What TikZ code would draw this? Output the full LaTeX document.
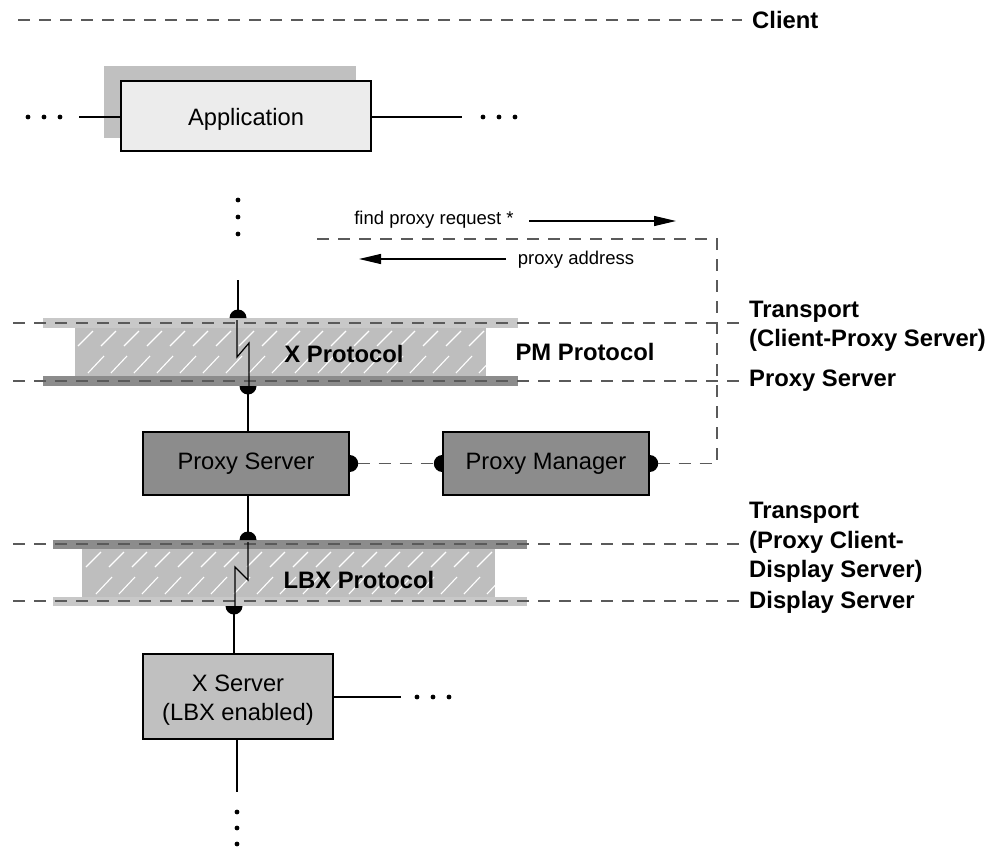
\documentclass[tikz,border=0pt]{standalone}
\usepackage{fontspec}
\setmainfont{Liberation Sans}
\usetikzlibrary{arrows.meta}
\definecolor{lightg}{HTML}{C8C8C8}
\definecolor{midg}{HTML}{BEBEBE}
\definecolor{darkg}{HTML}{8C8C8C}
\definecolor{appg}{HTML}{ECECEC}
\definecolor{shadowg}{HTML}{C0C0C0}
\definecolor{dashg}{HTML}{5A5A5A}
\newcommand\mydomeup[1]{\fill (#1) ++(-8.5pt,0) arc[start angle=180,end angle=0,radius=8.5pt] -- cycle;}
\newcommand\mydomedown[1]{\fill (#1) ++(-8.5pt,0) arc[start angle=180,end angle=360,radius=8.5pt] -- cycle;}
\newcommand\mydomeright[1]{\fill (#1) ++(0,-8.5pt) arc[start angle=-90,end angle=90,radius=8.5pt] -- cycle;}
\newcommand\mydomeleft[1]{\fill (#1) ++(0,8.5pt) arc[start angle=90,end angle=270,radius=8.5pt] -- cycle;}
\newcommand\mydot[1]{\fill (#1) circle[radius=2.4pt];}
\begin{document}
\begin{tikzpicture}[x=1pt,y=-1pt,
  box/.style={draw=black, line width=1.4pt, inner sep=0pt, align=center,
    font=\fontsize{23.7}{28.5}\selectfont},
  boxtext/.style={inner sep=0pt, align=center, font=\fontsize{23.7}{28.5}\selectfont},
  boldlab/.style={font=\fontsize{23.8}{28}\selectfont\bfseries, inner sep=0pt},
  rlab/.style={boldlab, anchor=west},
  smalllab/.style={font=\fontsize{18.5}{22}\selectfont, inner sep=0pt},
  conn/.style={line width=1.2pt},
  dashline/.style={draw=dashg, line width=1.1pt, dash pattern=on 12pt off 9pt},
  hatch/.style={draw=white, line width=1.1pt},
  arr/.style={line width=1.2pt, -{Triangle[length=22pt,width=10pt]}}
]
\useasboundingbox (0,0) rectangle (993,848);

% ---- Client level
\draw[dashline] (18,20) -- (742,20);
\node[boldlab, anchor=west] (client) at (752,20) {Client};

% ---- Application
\fill[shadowg] (104,66) rectangle (356,138);
\node[box, fill=appg, minimum width=250pt, minimum height=70pt] (app) at (246,116) {\raisebox{-3pt}[\height][\depth]{Application}};
\coordinate (appL) at (79,117);
\coordinate (appR) at (462,117);
\draw[conn] (appL) -- (app.west |- appL);
\draw[conn] (app.east |- appR) -- (appR);
\mydot{28,117}\mydot{44,117}\mydot{60,117}
\mydot{483,117}\mydot{499,117}\mydot{515,117}
\mydot{238,200}\mydot{238,217}\mydot{238,234}

% ---- PM messages
\node[smalllab] (fpr) at (434,220) {find proxy request *};
\coordinate (fprA) at (529,221);
\coordinate (fprB) at (676,221);
\draw[arr] (fprA) -- (fprB);
\node[smalllab] (pad) at (576,260) {proxy address};
\coordinate (padA) at (506,259);
\coordinate (padB) at (359,259);
\draw[arr] (padA) -- (padB);

% ---- Bar 1 (X Protocol)
\fill[lightg] (43,318) rectangle (518,328);
\fill[midg] (75,328) rectangle (486,376);
\fill[darkg] (43,376) rectangle (518,386);
\begin{scope}
  \clip (75,328) rectangle (486,376);
  \foreach \i in {0,...,19} {
    \pgfmathsetmacro{\xx}{78+\i*23}
    \draw[hatch] (\xx,346) -- ({\xx+15},331);
    \draw[hatch] ({\xx+10},373) -- ({\xx+26},356);
  }
\end{scope}
\draw[dashline] (13,323) -- (742,323);
\draw[dashline] (13,381) -- (742,381);
\node[boldlab] (xp) at (344,354) {X Protocol};
\node[boldlab] (pmp) at (585,352) {PM Protocol};

\coordinate (vtop) at (238,280);
\coordinate (d1t) at (238,318);
\draw[conn] (vtop) -- (d1t);
\mydomeup{d1t}
\coordinate (z1a) at (237,320);
\coordinate (z1b) at (237,357);
\coordinate (z1c) at (249,343);
\coordinate (z1d) at (249,386);
\draw[line width=1.2pt] (z1a) -- (z1b) -- (z1c) -- (z1d);
\coordinate (d1b) at (248,386);
\mydomedown{d1b}

% ---- Proxy boxes
\node[box, fill=darkg, minimum width=206pt, minimum height=63pt] (ps) at (246,463.5) {Proxy Server};
\node[box, fill=darkg, minimum width=206pt, minimum height=63pt] (pm) at (546,463.5) {Proxy Manager};
\draw[conn] ([yshift=-8pt]d1b) -- (ps.north -| d1b);
\mydomeright{ps.east}
\mydomeleft{pm.west}
\mydomeright{pm.east}
\coordinate (c1) at (717,463.5);
\coordinate (c2) at (717,239);
\coordinate (c3) at (313,239);
\draw[dashline] ([xshift=8pt]ps.east) -- ([xshift=-8pt]pm.west);
\draw[dashline] ([xshift=8pt]pm.east) -- (c1) -- (c2) -- (c3);

% ---- right labels
\node[rlab] (t1) at (749,312) {Transport};
\node[rlab] (t1b) at (749,340) {(Client-Proxy Server)};
\node[rlab] (psl) at (749,381) {Proxy Server};
\node[rlab] (t2) at (749,513) {Transport};
\node[rlab] (t2b) at (749,542) {(Proxy Client-};
\node[rlab] (t2c) at (749,571) {Display Server)};
\node[rlab] (dsl) at (749,602) {Display Server};

% ---- Bar 2 (LBX Protocol)
\fill[darkg] (53,540) rectangle (527,549);
\fill[midg] (82,549) rectangle (495,597);
\fill[lightg] (53,597) rectangle (527,606);
\begin{scope}
  \clip (82,549) rectangle (495,597);
  \foreach \i in {0,...,19} {
    \pgfmathsetmacro{\xx}{86+\i*23}
    \draw[hatch] (\xx,567) -- ({\xx+15},552);
    \draw[hatch] ({\xx+10},594) -- ({\xx+26},577);
  }
\end{scope}
\draw[dashline] (13,544) -- (742,544);
\draw[dashline] (13,601) -- (742,601);
\node[boldlab] (lbx) at (359,580) {LBX Protocol};

\coordinate (d2t) at (248,540);
\draw[conn] (ps.south -| d2t) -- ([yshift=8pt]d2t);
\mydomeup{d2t}
\coordinate (z2a) at (248,542);
\coordinate (z2b) at (248,580);
\coordinate (z2c) at (235,567);
\coordinate (z2d) at (235,606);
\draw[line width=1.2pt] (z2a) -- (z2b) -- (z2c) -- (z2d);
\coordinate (d2b) at (234,606);
\mydomedown{d2b}

% ---- X Server
\node[box, fill=shadowg, minimum width=190pt, minimum height=85pt] (xs) at (238,696.5) {};
\node[boxtext] (xst) at (238,700) {X Server\\(LBX enabled)};
\draw[conn] ([yshift=-8pt]d2b) -- (xs.north -| d2b);
\coordinate (xsR) at (401,697);
\draw[conn] (xs.east |- xsR) -- (xsR);
\mydot{417,697}\mydot{433,697}\mydot{449,697}
\coordinate (xsB) at (237,792);
\draw[conn] (xs.south -| xsB) -- (xsB);
\mydot{237,812}\mydot{237,828}\mydot{237,844}
\end{tikzpicture}
\end{document}
